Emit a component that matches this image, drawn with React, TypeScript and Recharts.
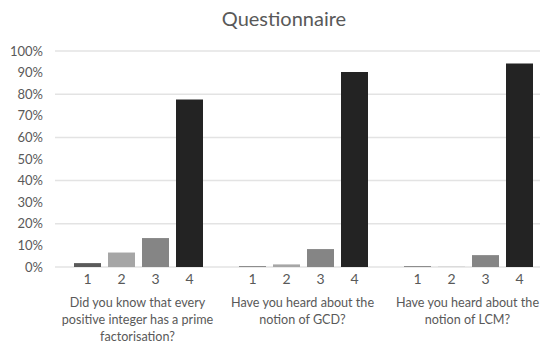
import { BarChart, Bar, XAxis, YAxis, CartesianGrid, LabelList } from "recharts"

const questions = [
  "Did you know that every\npositive integer has a prime\nfactorisation?",
  "Have you heard about the\nnotion of GCD?",
  "Have you heard about the\nnotion of LCM?",
]
const answer1 = [0.018, 0.003, 0.003]
const answer2 = [0.067, 0.012, 0.001]
const answer3 = [0.134, 0.083, 0.055]
const answer4 = [0.776, 0.903, 0.942]
const seriesNames = ["1", "2", "3", "4"]
const seriesColors = ["#5a5a5a", "#a6a6a6", "#858585", "#232323"]
const yTicks = [0, 0.1, 0.2, 0.3, 0.4, 0.5, 0.6, 0.7, 0.8, 0.9, 1]

const data = questions.map((q, i) => ({
  question: q,
  a1: answer1[i],
  a2: answer2[i],
  a3: answer3[i],
  a4: answer4[i],
}))

const FONT = "Lato, 'Noto Sans', sans-serif"
const TEXT = "#595959"

function QuestionTick(props: any) {
  const { x, y, payload } = props
  const lines = String(payload.value).split("\n")
  return (
    <text x={x} y={y} textAnchor="middle" fill={TEXT} fontSize={12.6} fontFamily={FONT}>
      {lines.map((line, i) => (
        <tspan key={i} x={x} dy={i === 0 ? 32 : 17}>{line}</tspan>
      ))}
    </text>
  )
}

export default function App() {
  return (
    <div style={{ position: "absolute", left: 0, top: 0, width: 570, height: 344, background: "#fff" }}>
      <div
        style={{
          position: "absolute",
          left: 0,
          width: 568,
          top: 6,
          textAlign: "center",
          fontFamily: FONT,
          fontSize: 20,
          color: TEXT,
        }}
      >
        Questionnaire
      </div>
      <BarChart
        width={570}
        height={344}
        data={data}
        margin={{ top: 51, right: 20, left: 0, bottom: 0 }}
        barCategoryGap={19}
        barGap={7}
      >
        <CartesianGrid vertical={false} stroke="#e3e3e3" strokeWidth={1.5} />
        <XAxis
          dataKey="question"
          axisLine={false}
          tickLine={false}
          height={77}
          interval={0}
          tick={<QuestionTick />}
        />
        <YAxis
          width={55}
          domain={[0, 1]}
          ticks={yTicks}
          axisLine={false}
          tickLine={false}
          tickMargin={6}
          tickFormatter={(v: number) => `${Math.round(v * 100)}%`}
          tick={{ fill: TEXT, fontSize: 13, fontFamily: FONT }}
        />
        {["a1", "a2", "a3", "a4"].map((key, i) => (
          <Bar key={key} dataKey={key} fill={seriesColors[i]} isAnimationActive={false}>
            <LabelList
              dataKey={key}
              position="bottom"
              offset={7}
              formatter={() => seriesNames[i]}
              fill={TEXT}
              fontSize={14}
              fontFamily={FONT}
            />
          </Bar>
        ))}
      </BarChart>
    </div>
  )
}
